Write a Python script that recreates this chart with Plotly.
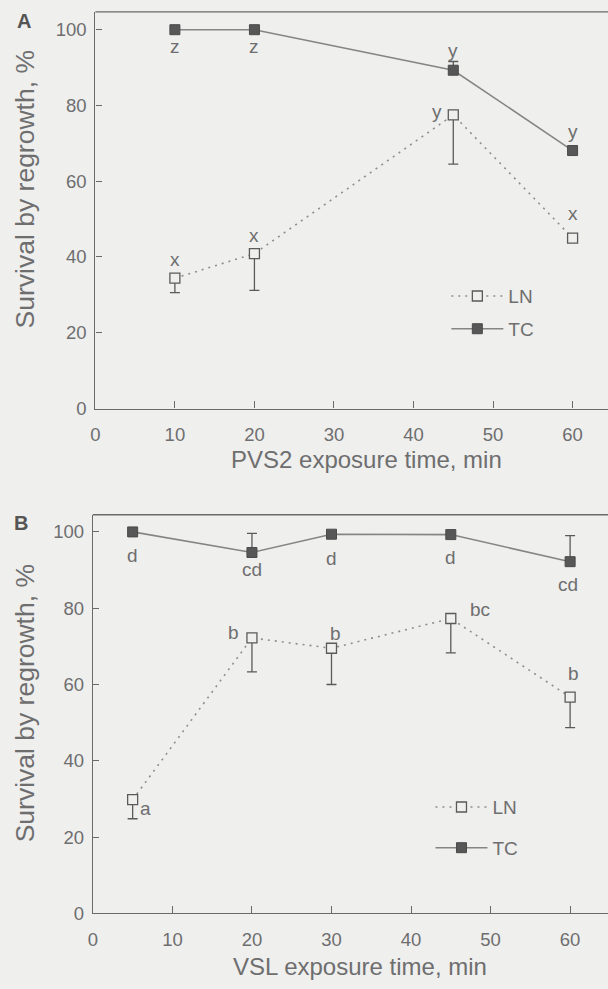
import plotly.graph_objects as go

W, H = 608, 989

# ---------------- data ----------------
a_x = [10, 20, 45, 60]
a_tc = [100, 100, 89.3, 68.1]
a_tc_err_up = [0, 0, 2.3, 0]
a_ln = [34.4, 40.9, 77.5, 45.0]
a_ln_err_down = [3.8, 9.7, 13.0, 0]
a_tc_letters = ["z", "z", "y", "y"]
a_ln_letters = ["x", "x", "y", "x"]

b_x = [5, 20, 30, 45, 60]
b_tc = [100, 94.6, 99.4, 99.3, 92.2]
b_tc_err_up = [0, 5.0, 0, 0, 6.8]
b_ln = [29.8, 72.2, 69.5, 77.3, 56.7]
b_ln_err_down = [5.0, 8.9, 9.5, 9.0, 8.0]
b_tc_letters = ["d", "cd", "d", "d", "cd"]
b_ln_letters = ["a", "b", "b", "bc", "b"]

x_ticks = [0, 10, 20, 30, 40, 50, 60]
y_ticks = [0, 20, 40, 60, 80, 100]

# ---------------- style ----------------
BG = "#efefee"
TXT = "#6e6e6e"
AX = "#6a6a6a"
FONT = "Liberation Sans, Arial, sans-serif"

fig = go.Figure()


def add_pair(xs, ln, ln_dn, tc, tc_up, xa, ya, leg):
    fig.add_trace(go.Scatter(
        x=xs, y=ln, name="LN", mode="lines+markers",
        xaxis=xa, yaxis=ya, legend=leg, legendgroup=leg + "ln",
        line=dict(color="#8e8e8e", width=1.6, dash="2px,5px"),
        marker=dict(symbol="square", size=10, color=BG,
                    line=dict(color="#5a5a5a", width=1.3)),
        error_y=dict(type="data", symmetric=False,
                     array=[0] * len(xs), arrayminus=ln_dn,
                     color="#5a5a5a", thickness=1.3, width=5),
    ))
    fig.add_trace(go.Scatter(
        x=xs, y=tc, name="TC", mode="lines+markers",
        xaxis=xa, yaxis=ya, legend=leg, legendgroup=leg + "tc",
        line=dict(color="#858585", width=1.6),
        marker=dict(symbol="square", size=10, color="#575757",
                    line=dict(color="#4a4a4a", width=1)),
        error_y=dict(type="data", symmetric=False,
                     array=tc_up, arrayminus=[0] * len(xs),
                     color="#5a5a5a", thickness=1.3, width=5),
    ))


add_pair(a_x, a_ln, a_ln_err_down, a_tc, a_tc_err_up, "x", "y", "legend")
add_pair(b_x, b_ln, b_ln_err_down, b_tc, b_tc_err_up, "x2", "y2", "legend2")


def px_x(p):
    return p / W


def px_y(p):
    return 1 - p / H


axis_common = dict(
    showgrid=False, zeroline=False, showline=True, linecolor=AX, linewidth=1.3,
    ticks="inside", tickcolor=AX, tickwidth=1.3,
    tickfont=dict(family=FONT, size=18.5, color=TXT),
)

# panel geometry (pixels)
a_left, a_top, a_bottom = 91.1, 12, 412.7
b_left, b_top, b_bottom = 88.6, 520, 922.7
right_px = 608
px_per_unit_x = 8.02

fig.update_layout(
    xaxis=dict(**axis_common, domain=[px_x(a_left), px_x(right_px)],
               range=[0, (right_px - a_left) / px_per_unit_x],
               tickvals=x_ticks, ticklen=7, anchor="y",
               ticklabelstandoff=9),
    yaxis=dict(**axis_common, domain=[px_y(a_bottom), px_y(a_top)],
               range=[0, 104.7], tickvals=y_ticks, ticklen=6, anchor="x",
               ticklabelstandoff=4),
    xaxis2=dict(**axis_common, domain=[px_x(b_left), px_x(right_px)],
                range=[0, (right_px - b_left) / px_per_unit_x],
                tickvals=x_ticks, ticklen=7, anchor="y2",
                ticklabelstandoff=9),
    yaxis2=dict(**axis_common, domain=[px_y(b_bottom), px_y(b_top)],
                range=[0, 104.5], tickvals=y_ticks, ticklen=6, anchor="x2",
                ticklabelstandoff=4),
)

# top frame lines of each panel
fig.add_shape(type="line", xref="x domain", yref="y domain", x0=0, x1=1, y0=1, y1=1,
              line=dict(color=AX, width=1.3))
fig.add_shape(type="line", xref="x2 domain", yref="y2 domain", x0=0, x1=1, y0=1, y1=1,
              line=dict(color=AX, width=1.3))

leg_common = dict(
    bgcolor="rgba(0,0,0,0)", borderwidth=0,
    font=dict(family=FONT, size=19, color=TXT),
    xanchor="left", yanchor="top", itemwidth=52,
)
fig.update_layout(
    legend=dict(**leg_common, x=px_x(445), y=px_y(280), tracegroupgap=5),
    legend2=dict(**leg_common, x=px_x(429), y=px_y(796.2), tracegroupgap=13),
)

annotations = []
letter_font = dict(family=FONT, size=19, color=TXT)

# significance letters, panel A
a_tc_shift = [(0, -17), (0, -17), (0, 20), (0, 19)]
a_ln_shift = [(0, 19), (0, 18), (-16, 3), (0, 25)]
for xv, yv, t, (dx, dy) in zip(a_x, a_tc, a_tc_letters, a_tc_shift):
    annotations.append(dict(x=xv, y=yv, xref="x", yref="y", text=t,
                            showarrow=False, xshift=dx, yshift=dy, font=letter_font))
for xv, yv, t, (dx, dy) in zip(a_x, a_ln, a_ln_letters, a_ln_shift):
    annotations.append(dict(x=xv, y=yv, xref="x", yref="y", text=t,
                            showarrow=False, xshift=dx, yshift=dy, font=letter_font))

# significance letters, panel B
b_tc_shift = [(0, -24), (0, -17), (0, -24), (0, -23), (-2, -23)]
b_ln_shift = [(13, -9), (-18, 5), (4, 15), (29, 9), (3, 24)]
for xv, yv, t, (dx, dy) in zip(b_x, b_tc, b_tc_letters, b_tc_shift):
    annotations.append(dict(x=xv, y=yv, xref="x2", yref="y2", text=t,
                            showarrow=False, xshift=dx, yshift=dy, font=letter_font))
for xv, yv, t, (dx, dy) in zip(b_x, b_ln, b_ln_letters, b_ln_shift):
    annotations.append(dict(x=xv, y=yv, xref="x2", yref="y2", text=t,
                            showarrow=False, xshift=dx, yshift=dy, font=letter_font))

title_font = dict(family=FONT, size=24, color=TXT)
ytitle_font = dict(family=FONT, size=26.5, color=TXT)
annotations += [
    dict(x=px_x(365), y=px_y(464), xref="paper", yref="paper",
         text="PVS2 exposure time, min", showarrow=False, font=title_font,
         xanchor="center", yanchor="middle"),
    dict(x=px_x(358), y=px_y(976), xref="paper", yref="paper",
         text="VSL exposure time, min", showarrow=False, font=title_font,
         xanchor="center", yanchor="middle"),
    dict(x=px_x(20), y=px_y(191.5), xref="paper", yref="paper",
         text="Survival by regrowth, %", showarrow=False, font=ytitle_font,
         textangle=-90, xanchor="center", yanchor="middle"),
    dict(x=px_x(20), y=px_y(710.7), xref="paper", yref="paper",
         text="Survival by regrowth, %", showarrow=False, font=ytitle_font,
         textangle=-90, xanchor="center", yanchor="middle"),
    dict(x=px_x(19), y=px_y(21.5), xref="paper", yref="paper",
         text="<b>A</b>", showarrow=False,
         font=dict(family=FONT, size=20, color="#555555"),
         xanchor="center", yanchor="middle"),
    dict(x=px_x(16.5), y=px_y(528), xref="paper", yref="paper",
         text="<b>B</b>", showarrow=False,
         font=dict(family=FONT, size=20, color="#555555"),
         xanchor="center", yanchor="middle"),
]

fig.update_layout(
    width=W, height=H,
    margin=dict(l=0, r=0, t=0, b=0),
    paper_bgcolor=BG, plot_bgcolor=BG,
    showlegend=True,
    annotations=annotations,
    font=dict(family=FONT, color=TXT),
)

fig.write_html(
    "out.html",
    config={"displayModeBar": False},
    post_script="document.body.style.margin='0';document.body.style.background='%s';" % BG,
)
